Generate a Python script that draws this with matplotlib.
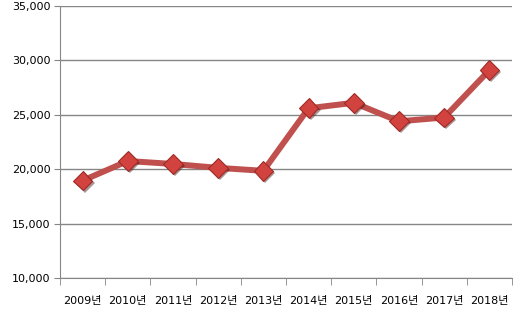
import matplotlib
matplotlib.use("Agg")
import matplotlib.pyplot as plt
import matplotlib.patheffects as pe
from matplotlib.ticker import FuncFormatter, FixedLocator

plt.rcParams['font.family'] = ['DejaVu Sans', 'Noto Sans CJK KR']

# data
years = ['2009년', '2010년', '2011년', '2012년', '2013년',
         '2014년', '2015년', '2016년', '2017년', '2018년']
values = [18950, 20750, 20480, 20120, 19850, 25600, 26100, 24400, 24750, 29100]

fig = plt.figure(figsize=(5.2, 3.15), dpi=100)
ax = fig.add_axes([0.1154, 0.1175, 0.8692, 0.8635])

x = list(range(len(years)))
ax.plot(x, values, color='#C0504D', lw=4.3, solid_capstyle='round', zorder=3)
ax.plot(x, values, ls='none', marker='D', markersize=10,
        markerfacecolor='#D2423E', markeredgecolor='#9E2B28', markeredgewidth=0.8,
        zorder=4,
        path_effects=[pe.SimplePatchShadow(offset=(1.5, -1.5), alpha=0.45), pe.Normal()])

ax.set_xlim(-0.5, len(years) - 0.5)
ax.set_ylim(10000, 35000)
ax.set_yticks(range(10000, 35001, 5000))
ax.yaxis.set_major_formatter(FuncFormatter(lambda v, p: f'{int(v):,}'))
ax.grid(axis='y', color='#868686', lw=1)
ax.set_axisbelow(True)

ax.set_xticks(x)
ax.set_xticklabels(years)
ax.xaxis.set_minor_locator(FixedLocator([i - 0.5 for i in range(len(years) + 1)]))
ax.tick_params(axis='x', which='major', length=0, pad=13, labelsize=8)
ax.tick_params(axis='x', which='minor', length=5, color='#868686')
ax.tick_params(axis='y', length=4, color='#868686', labelsize=8, pad=3)

for s in ['top', 'right']:
    ax.spines[s].set_visible(False)
for s in ['left', 'bottom']:
    ax.spines[s].set_color('#868686')

fig.savefig('out.png', dpi=100)
